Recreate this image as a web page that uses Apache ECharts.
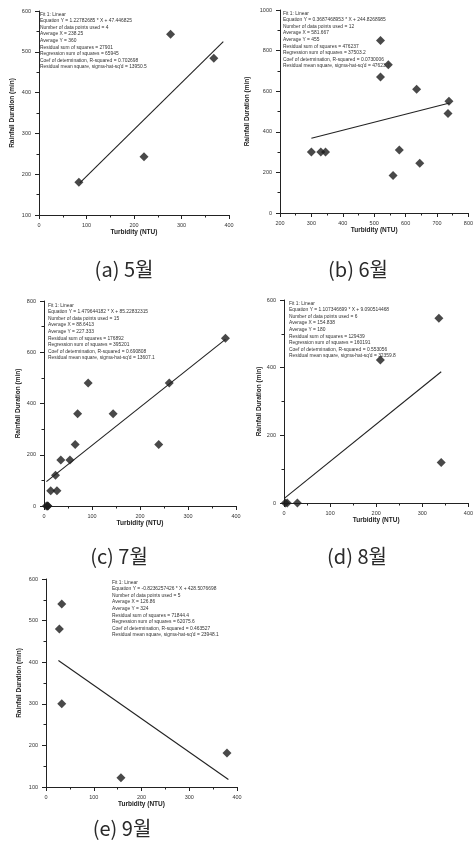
<!DOCTYPE html>
<html>
<head>
<meta charset="utf-8">
<script src="https://cdn.jsdelivr.net/npm/echarts@6/dist/echarts.min.js"></script>
<style>
  html, body { margin: 0; padding: 0; background: #fff; }
  #main { width: 476px; height: 845px; }
</style>
</head>
<body>
<div id="main"></div>
<script>
// turbidity (NTU) vs rainfall duration (min), one panel per month
const captions = ['(a) 5월', '(b) 6월', '(c) 7월', '(d) 8월', '(e) 9월'];

const mayPoints = [[84, 180], [221, 243], [277, 543], [368, 484]];
const mayFit = [[86, 179], [388, 525]];

const junePoints = [[300, 300], [330, 300], [345, 300], [520, 850], [520, 670], [545, 730],
  [580, 310], [560, 185], [635, 610], [645, 245], [738, 550], [735, 490]];
const juneFit = [[300, 368], [740, 542]];

const julyPoints = [[5, 0], [8, 0], [8, 0], [14, 60], [27, 60], [24, 120], [35, 180], [54, 180],
  [65, 240], [70, 360], [92, 480], [144, 360], [239, 240], [261, 480], [378, 655]];
const julyFit = [[5, 95], [378, 650]];

const augPoints = [[3, 0], [7, 0], [29, 0], [209, 423], [336, 546], [341, 120]];
const augFit = [[2, 15], [341, 388]];

const sepPoints = [[33, 540], [28, 480], [33, 300], [157, 122], [379, 182]];
const sepFit = [[26, 404], [382, 118]];

// axis ranges [min, max, interval]
const xRanges = [[0, 400, 100], [200, 800, 100], [0, 400, 100], [0, 400, 100], [0, 400, 100]];
const yRanges = [[100, 600, 100], [0, 1000, 200], [0, 800, 200], [0, 600, 200], [100, 600, 100]];

const fitTexts = [
  ['Fit 1: Linear',
   'Equation Y = 1.22782685 * X + 47.446825',
   'Number of data points used = 4',
   'Average X = 238.25',
   'Average Y = 360',
   'Residual sum of squares = 27901',
   'Regression sum of squares = 65945',
   'Coef of determination, R-squared = 0.702698',
   "Residual mean square, sigma-hat-sq'd = 13950.5"],
  ['Fit 1: Linear',
   'Equation Y = 0.3687468953 * X + 244.8268985',
   'Number of data points used = 12',
   'Average X = 581.667',
   'Average Y = 455',
   'Residual sum of squares = 476237',
   'Regression sum of squares = 37503.2',
   'Coef of determination, R-squared = 0.0730006',
   "Residual mean square, sigma-hat-sq'd = 47623.7"],
  ['Fit 1: Linear',
   'Equation Y = 1.479644182 * X + 85.22832315',
   'Number of data points used = 15',
   'Average X = 88.6413',
   'Average Y = 227.333',
   'Residual sum of squares = 176892',
   'Regression sum of squares = 395201',
   'Coef of determination, R-squared = 0.690808',
   "Residual mean square, sigma-hat-sq'd = 13607.1"],
  ['Fit 1: Linear',
   'Equation Y = 1.107346699 * X + 9.090514468',
   'Number of data points used = 6',
   'Average X = 154.838',
   'Average Y = 180',
   'Residual sum of squares = 129439',
   'Regression sum of squares = 160191',
   'Coef of determination, R-squared = 0.553056',
   "Residual mean square, sigma-hat-sq'd = 32359.8"],
  ['Fit 1: Linear',
   'Equation Y = -0.8236257426 * X + 428.5076698',
   'Number of data points used = 5',
   'Average X = 126.86',
   'Average Y = 324',
   'Residual sum of squares = 71844.4',
   'Regression sum of squares = 62075.6',
   'Coef of determination, R-squared = 0.463527',
   "Residual mean square, sigma-hat-sq'd = 23948.1"]
];

const allPoints = [mayPoints, junePoints, julyPoints, augPoints, sepPoints];
const allFits = [mayFit, juneFit, julyFit, augFit, sepFit];

// layout
const grids = [
  { left: 39, top: 11, width: 190, height: 204 },
  { left: 280, top: 10, width: 192, height: 203 },
  { left: 44, top: 301, width: 192, height: 205 },
  { left: 284, top: 300, width: 191, height: 203 },
  { left: 46, top: 579, width: 191, height: 208 }
];
const textPos = [[40, 11], [283, 10], [48, 302], [289, 300], [112, 579]];
const captionPos = [[124, 269], [358, 269], [119, 556], [357, 556], [122, 828]];
const yNameGap = [23, 29, 22, 18, 23];

const ink = '#222';
const font = 'Liberation Sans';

let myChart = echarts.init(document.getElementById('main'), null, { renderer: 'canvas' });
let option;

function axisBase() {
  return {
    axisLine: { show: true, onZero: false, lineStyle: { color: ink, width: 1 } },
    axisTick: { show: true, inside: false, length: 4, lineStyle: { color: ink } },
    minorTick: { show: true, splitNumber: 2, length: 2.5, lineStyle: { color: ink } },
    splitLine: { show: false },
    axisLabel: { color: '#333', fontSize: 5.5, fontFamily: font, formatter: (v) => String(v) },
    nameTextStyle: { color: '#222', fontSize: 6.5, fontWeight: 'bold', fontFamily: font }
  };
}

let xAxes = [], yAxes = [], series = [], titles = [], graphics = [];

for (let i = 0; i < 5; i++) {
  xAxes.push(Object.assign(axisBase(), {
    type: 'value', gridIndex: i,
    min: xRanges[i][0], max: xRanges[i][1], interval: xRanges[i][2],
    name: 'Turbidity (NTU)', nameLocation: 'middle', nameGap: 14
  }));
  xAxes[i].axisLabel.margin = 7;

  yAxes.push(Object.assign(axisBase(), {
    type: 'value', gridIndex: i,
    min: yRanges[i][0], max: yRanges[i][1], interval: yRanges[i][2],
    name: 'Rainfall Duration (min)', nameLocation: 'middle', nameGap: yNameGap[i]
  }));
  yAxes[i].axisLabel.margin = 8;

  series.push({
    type: 'scatter', xAxisIndex: i, yAxisIndex: i,
    symbol: 'diamond', symbolSize: 9,
    itemStyle: { color: '#1c1c1c' },
    data: allPoints[i]
  });
  series.push({
    type: 'line', xAxisIndex: i, yAxisIndex: i,
    symbol: 'none', silent: true,
    lineStyle: { color: ink, width: 1.1 },
    data: allFits[i]
  });

  titles.push({
    left: textPos[i][0], top: textPos[i][1], padding: 0,
    text: fitTexts[i].join('\n'),
    textStyle: { color: '#333', fontSize: 4.9, fontWeight: 'normal', lineHeight: 6.6, fontFamily: font }
  });

  graphics.push({
    type: 'text', x: captionPos[i][0], y: captionPos[i][1],
    style: {
      text: captions[i], fill: '#2a2a2a',
      font: '20px "Noto Sans CJK KR"',
      textAlign: 'center', textVerticalAlign: 'middle'
    }
  });
}

option = {
  backgroundColor: '#fff',
  animation: false,
  title: titles,
  grid: grids,
  xAxis: xAxes,
  yAxis: yAxes,
  series: series,
  graphic: graphics
};

option && myChart.setOption(option);
</script>
</body>
</html>
